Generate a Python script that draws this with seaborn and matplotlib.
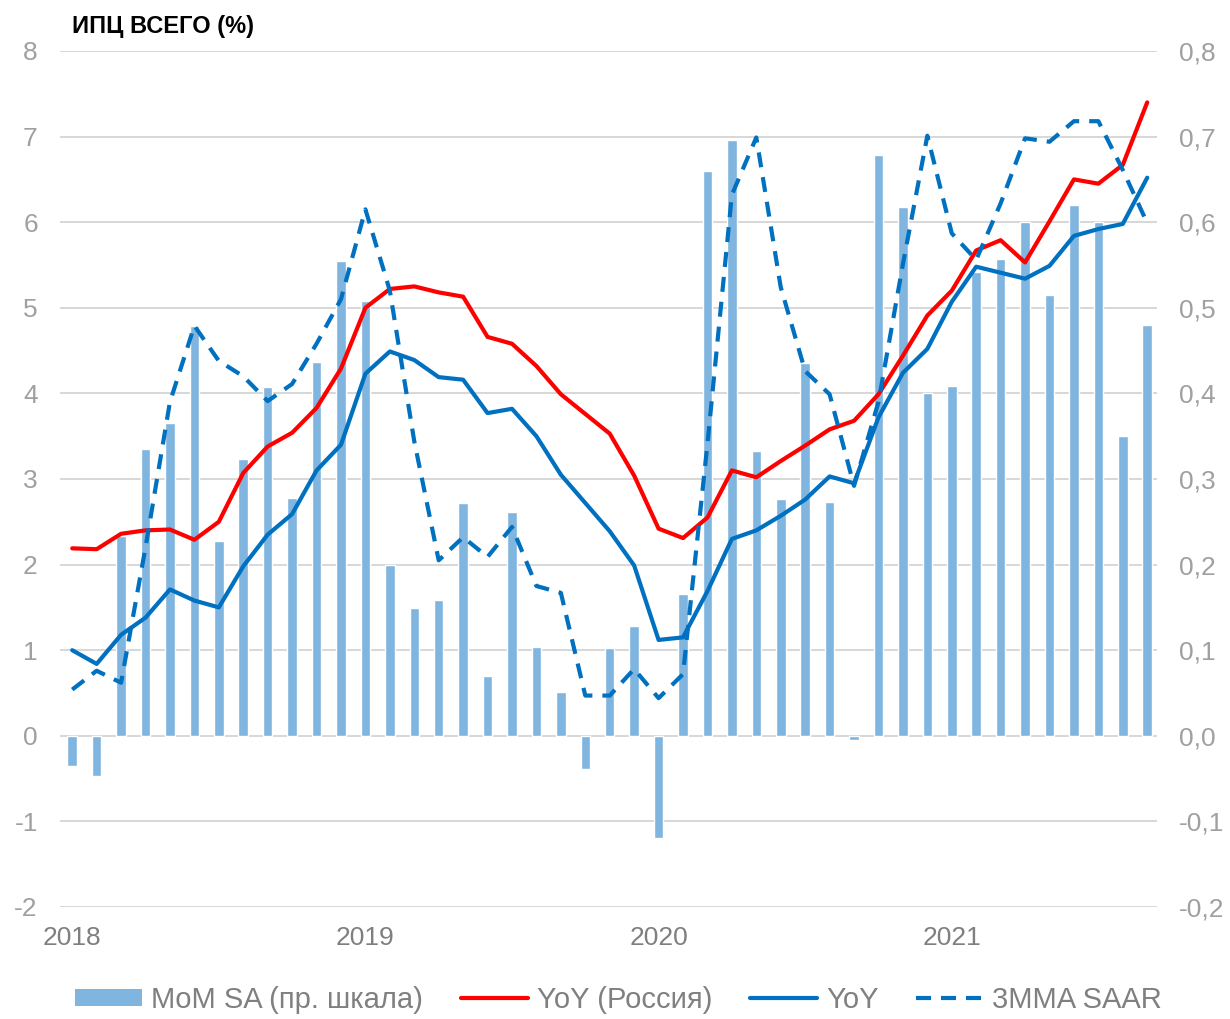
import numpy as np
import pandas as pd
import matplotlib
matplotlib.use("Agg")
import matplotlib.pyplot as plt
from matplotlib.lines import Line2D
from matplotlib.patches import Patch
import seaborn as sns

# Monthly data, Jan 2018 - Sep 2021
mom_sa = [
    -0.035, -0.047, 0.233, 0.335, 0.365, 0.479, 0.228, 0.323, 0.408, 0.278, 0.437, 0.555,
    0.508, 0.200, 0.149, 0.159, 0.272, 0.070, 0.261, 0.104, 0.051, -0.039, 0.102, 0.128,
    -0.119, 0.166, 0.660, 0.696, 0.333, 0.277, 0.436, 0.273, -0.005, 0.679, 0.618, 0.400,
    0.409, 0.542, 0.557, 0.600, 0.515, 0.620, 0.600, 0.350, 0.480,
]
yoy_russia = [
    2.19, 2.18, 2.36, 2.40, 2.41, 2.29, 2.50, 3.07, 3.38, 3.54, 3.83, 4.29,
    5.00, 5.22, 5.25, 5.18, 5.13, 4.66, 4.58, 4.32, 3.99, 3.76, 3.53, 3.04,
    2.42, 2.31, 2.55, 3.10, 3.02, 3.21, 3.39, 3.58, 3.68, 3.99, 4.44, 4.91,
    5.20, 5.67, 5.79, 5.53, 6.01, 6.50, 6.45, 6.67, 7.40,
]
yoy = [
    1.00, 0.84, 1.18, 1.38, 1.71, 1.58, 1.50, 1.98, 2.35, 2.59, 3.10, 3.40,
    4.23, 4.49, 4.39, 4.19, 4.16, 3.77, 3.82, 3.50, 3.05, 2.72, 2.39, 1.99,
    1.12, 1.15, 1.69, 2.30, 2.40, 2.57, 2.76, 3.03, 2.95, 3.72, 4.24, 4.52,
    5.07, 5.48, 5.41, 5.34, 5.49, 5.84, 5.92, 5.98, 6.52,
]
mma3_saar = [
    0.54, 0.76, 0.62, 2.20, 3.90, 4.79, 4.38, 4.20, 3.91, 4.11, 4.58, 5.10,
    6.15, 5.20, 3.44, 2.05, 2.32, 2.09, 2.44, 1.75, 1.67, 0.47, 0.47, 0.78,
    0.44, 0.72, 3.41, 6.32, 6.99, 5.24, 4.26, 3.99, 2.92, 3.90, 5.51, 7.01,
    5.87, 5.56, 6.22, 6.98, 6.94, 7.18, 7.18, 6.61, 5.99,
]
years = ["2018", "2019", "2020", "2021"]

month_idx = np.arange(len(mom_sa))
df = pd.DataFrame({
    "idx": month_idx,
    "mom": mom_sa,
    "yoy_ru": yoy_russia,
    "yoy": yoy,
    "saar": mma3_saar,
})

BAR_COLOR = "#7FB5DF"
RED = "#FF0000"
BLUE = "#0070C0"
GRID = "#D4D4D4"
TICK_GRAY = "#A0A0A0"

sns.set_style("white")
plt.rcParams["font.family"] = ["Liberation Sans", "DejaVu Sans"]
plt.rcParams["axes.unicode_minus"] = False

fig = plt.figure(figsize=(12.3, 10.19), dpi=100)
ax = fig.add_axes([60 / 1230, 1 - 907 / 1019, 1097 / 1230, 856 / 1019])
ax_r = ax.twinx()

# bars on the right scale, behind the lines
sns.barplot(data=df, x="idx", y="mom", ax=ax_r, color=BAR_COLOR,
            saturation=1, width=0.39, zorder=2)

sns.lineplot(data=df, x="idx", y="yoy_ru", ax=ax, color=RED, lw=3)
sns.lineplot(data=df, x="idx", y="yoy", ax=ax, color=BLUE, lw=3)
sns.lineplot(data=df, x="idx", y="saar", ax=ax, color=BLUE, lw=3)
ax.lines[-1].set_linestyle((0, (3.6, 2.4)))

ax.set_zorder(ax_r.get_zorder() + 1)
ax.patch.set_visible(False)

ax.set_ylim(-2, 8)
ax.set_yticks(range(-2, 9))
ax_r.set_ylim(-0.2, 0.8)
r_ticks = [round(v, 1) for v in np.arange(-0.2, 0.81, 0.1)]
ax_r.set_yticks(r_ticks)
ax_r.set_yticklabels([f"{v:.1f}".replace(".", ",") for v in r_ticks])

ax.set_xlim(-0.5, 44.4)
ax.set_xticks([0, 12, 24, 36])
ax.set_xticklabels(years)
ax.set_xticks([-0.5, 11.5, 23.5, 35.5], minor=True)

ax_r.yaxis.grid(True, color=GRID, lw=1.3)
ax_r.xaxis.grid(True, which="minor", color=GRID, lw=1.3)
ax_r.xaxis.grid(False, which="major")
ax_r.set_axisbelow(True)

for a in (ax, ax_r):
    for s in a.spines.values():
        s.set_visible(False)
    a.set_xlabel("")
    a.set_ylabel("")

ax.tick_params(axis="y", length=0, pad=16, labelsize=19, labelcolor=TICK_GRAY)
ax.tick_params(axis="x", which="both", length=0, pad=14, labelsize=19, labelcolor="#7F7F7F")
ax_r.tick_params(axis="y", length=0, pad=16, labelsize=19, labelcolor=TICK_GRAY)

fig.text(72 / 1230, 1 - 27 / 1019, "ИПЦ ВСЕГО (%)", fontsize=17,
         fontweight="bold", color="black", va="center", ha="left")

handles = [
    Patch(facecolor=BAR_COLOR, edgecolor="none"),
    Line2D([], [], color=RED, lw=3),
    Line2D([], [], color=BLUE, lw=3),
    Line2D([], [], color=BLUE, lw=3, ls=(0, (3.6, 2.4))),
]
labels = ["MoM SA (пр. шкала)", "YoY (Россия)", "YoY", "3MMA SAAR"]
fig.legend(handles, labels, loc="center", bbox_to_anchor=(0.503, 1 - 1000 / 1019),
           ncol=4, frameon=False, fontsize=21, labelcolor="#808080",
           handlelength=2.3, handleheight=0.55, handletextpad=0.3, columnspacing=1.3)

fig.savefig("out.png", dpi=100)
